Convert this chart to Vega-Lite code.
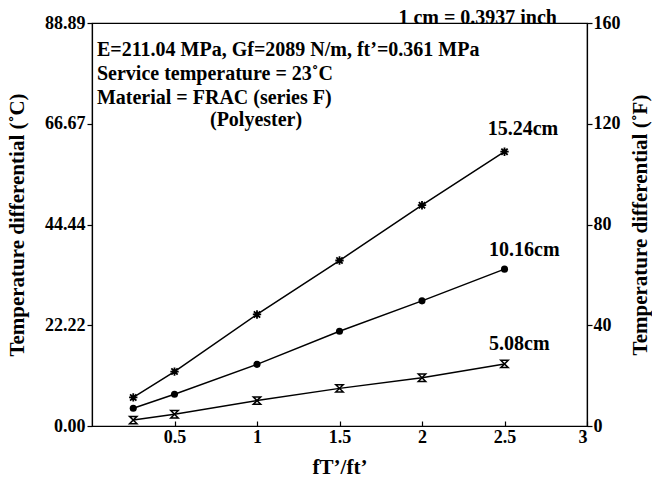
{
  "$schema": "https://vega.github.io/schema/vega-lite/v6.json",
  "width": 495,
  "height": 403,
  "autosize": {"type": "none"},
  "padding": {"left": 92, "top": 23, "right": 65, "bottom": 56},
  "background": "white",
  "title": {"text": "1 cm = 0.3937 inch", "anchor": "end", "frame": "group", "dx": -30, "offset": -14, "fontSize": 20, "font": "Liberation Serif", "fontWeight": "bold", "color": "black"},
  "config": {
    "view": {"stroke": "black", "strokeWidth": 1.2},
    "axis": {"labelFont": "Liberation Serif", "labelFontWeight": "bold", "labelFontSize": 18, "labelColor": "black", "titleFont": "Liberation Serif", "titleFontWeight": "bold", "titleFontSize": 21, "titleColor": "black", "grid": false, "domainColor": "black", "tickColor": "black", "domainWidth": 1.2, "tickWidth": 1.2}
  },
  "datasets": {
    "series": [
      {"ratio": 0.25, "temp": 6.3, "size": "15.24cm"},
      {"ratio": 0.5, "temp": 12.0, "size": "15.24cm"},
      {"ratio": 1.0, "temp": 24.6, "size": "15.24cm"},
      {"ratio": 1.5, "temp": 36.5, "size": "15.24cm"},
      {"ratio": 2.0, "temp": 48.7, "size": "15.24cm"},
      {"ratio": 2.5, "temp": 60.5, "size": "15.24cm"},
      {"ratio": 0.25, "temp": 3.9, "size": "10.16cm"},
      {"ratio": 0.5, "temp": 7.0, "size": "10.16cm"},
      {"ratio": 1.0, "temp": 13.6, "size": "10.16cm"},
      {"ratio": 1.5, "temp": 20.9, "size": "10.16cm"},
      {"ratio": 2.0, "temp": 27.6, "size": "10.16cm"},
      {"ratio": 2.5, "temp": 34.6, "size": "10.16cm"},
      {"ratio": 0.25, "temp": 1.3, "size": "5.08cm"},
      {"ratio": 0.5, "temp": 2.6, "size": "5.08cm"},
      {"ratio": 1.0, "temp": 5.6, "size": "5.08cm"},
      {"ratio": 1.5, "temp": 8.3, "size": "5.08cm"},
      {"ratio": 2.0, "temp": 10.65, "size": "5.08cm"},
      {"ratio": 2.5, "temp": 13.7, "size": "5.08cm"}
    ],
    "labels": [
      {"x": 2.612, "y": 65.5, "label": "15.24cm"},
      {"x": 2.62, "y": 38.9, "label": "10.16cm"},
      {"x": 2.59, "y": 18.0, "label": "5.08cm"}
    ],
    "notes": [
      {"x": 0.03, "y": 83.0, "label": "E=211.04 MPa, Gf=2089 N/m, ft’=0.361 MPa"},
      {"x": 0.03, "y": 77.6, "label": "Service temperature = 23˚C"},
      {"x": 0.03, "y": 72.3, "label": "Material = FRAC (series F)"},
      {"x": 0.715, "y": 67.4, "label": "(Polyester)"}
    ],
    "fscale": [{"ratio": 0, "tempF": 0}, {"ratio": 3, "tempF": 160}]
  },
  "layer": [
    {
      "layer": [
        {
          "data": {"name": "series"},
          "mark": {"type": "line", "color": "black", "strokeWidth": 1.5},
          "encoding": {
            "x": {"field": "ratio", "type": "quantitative", "scale": {"domain": [0, 3], "nice": false}, "axis": {"values": [0.5, 1, 1.5, 2, 2.5, 3], "tickSize": -5, "labelPadding": 7, "title": "fT’/ft’", "titlePadding": 10, "format": "~g"}},
            "y": {"field": "temp", "type": "quantitative", "scale": {"domain": [0, 88.89], "nice": false, "zero": true}, "axis": {"values": [0, 22.22, 44.44, 66.67, 88.89], "format": ".2f", "tickSize": 5, "labelPadding": 2, "title": "Temperature differential (˚C)", "titlePadding": 17}},
            "detail": {"field": "size"}
          }
        },
        {
          "data": {"name": "series"},
          "transform": [{"filter": "datum.size === '15.24cm'"}],
          "mark": {"type": "point", "shape": "M-1,0L1,0M0,-1L0,1M-0.75,-0.75L0.75,0.75M-0.75,0.75L0.75,-0.75", "filled": false, "stroke": "black", "strokeWidth": 1.8, "size": 70, "opacity": 1},
          "encoding": {"x": {"field": "ratio", "type": "quantitative"}, "y": {"field": "temp", "type": "quantitative"}}
        },
        {
          "data": {"name": "series"},
          "transform": [{"filter": "datum.size === '10.16cm'"}],
          "mark": {"type": "point", "shape": "circle", "filled": true, "fill": "black", "size": 50, "opacity": 1},
          "encoding": {"x": {"field": "ratio", "type": "quantitative"}, "y": {"field": "temp", "type": "quantitative"}}
        },
        {
          "data": {"name": "series"},
          "transform": [{"filter": "datum.size === '5.08cm'"}],
          "mark": {"type": "point", "shape": "M-1,-1L1,-1L-1,1L1,1Z", "filled": false, "stroke": "black", "strokeWidth": 1.5, "size": 55, "opacity": 1},
          "encoding": {"x": {"field": "ratio", "type": "quantitative"}, "y": {"field": "temp", "type": "quantitative"}}
        },
        {
          "data": {"name": "labels"},
          "mark": {"type": "text", "font": "Liberation Serif", "fontWeight": "bold", "fontSize": 20, "color": "black", "align": "center", "baseline": "middle"},
          "encoding": {"x": {"field": "x", "type": "quantitative"}, "y": {"field": "y", "type": "quantitative"}, "text": {"field": "label"}}
        },
        {
          "data": {"name": "notes"},
          "mark": {"type": "text", "font": "Liberation Serif", "fontWeight": "bold", "fontSize": 20, "color": "black", "align": "left", "baseline": "middle"},
          "encoding": {"x": {"field": "x", "type": "quantitative"}, "y": {"field": "y", "type": "quantitative"}, "text": {"field": "label"}}
        }
      ]
    },
    {
      "data": {"name": "fscale"},
      "mark": {"type": "point", "opacity": 0},
      "encoding": {
        "x": {"field": "ratio", "type": "quantitative"},
        "y": {"field": "tempF", "type": "quantitative", "scale": {"domain": [0, 160], "nice": false}, "axis": {"orient": "right", "values": [0, 40, 80, 120, 160], "tickSize": 5, "labelPadding": 1, "title": "Temperature differential (˚F)", "titleAngle": -90, "titlePadding": 30}}
      }
    }
  ],
  "resolve": {"scale": {"y": "independent"}, "axis": {"y": "independent"}}
}
